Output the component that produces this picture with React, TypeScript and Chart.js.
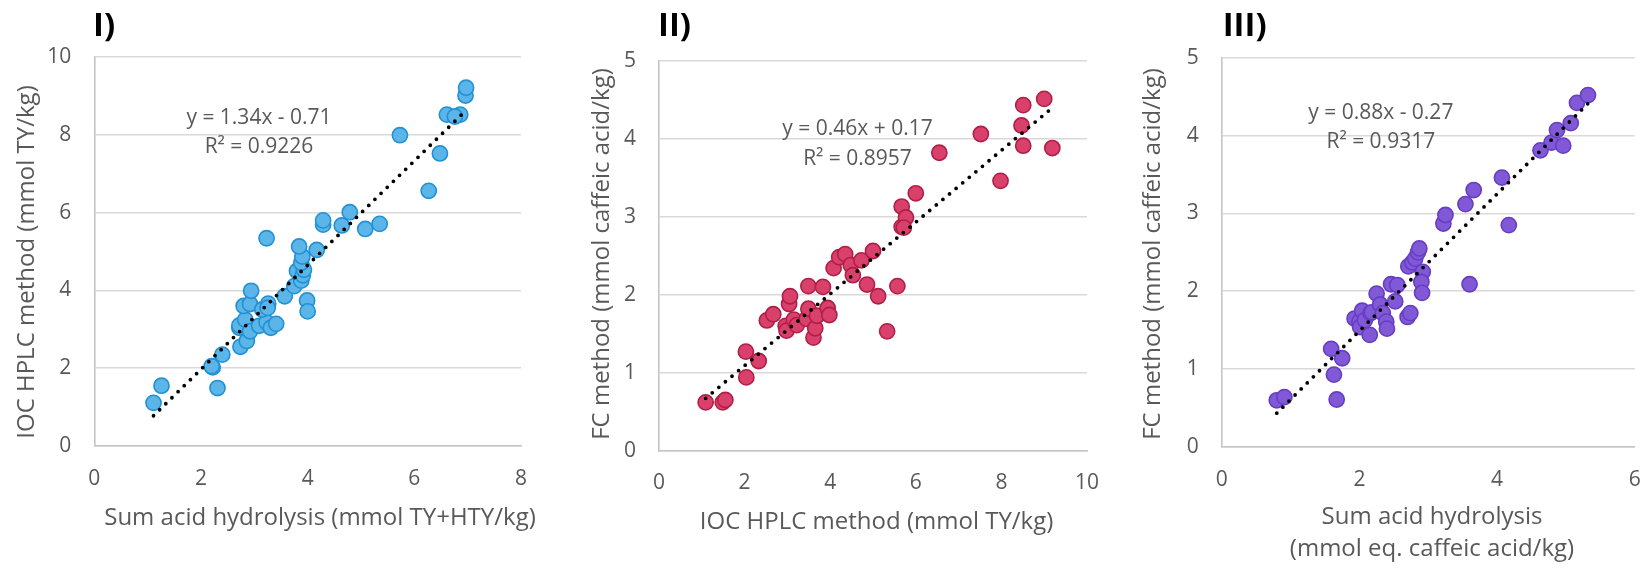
import React, { useEffect, useRef } from "react";
import { Chart, registerables } from "chart.js";
Chart.register(...registerables);

const FONT = "'Open Sans', 'DejaVu Sans', sans-serif";
const TEXT = "#595959";

// ---- Panel I: Sum acid hydrolysis vs IOC HPLC ----
const p1X = [1.11, 1.26, 2.22, 2.2, 2.31, 2.4, 2.74, 2.86, 2.72, 2.72, 2.83, 2.92, 2.8, 2.92, 2.94, 3.09, 3.23, 3.15, 3.26, 3.25, 3.31, 3.41, 3.23, 3.57, 3.75, 3.8, 3.88, 3.91, 3.93, 3.88, 3.9, 3.84, 3.99, 4.0, 4.17, 4.29, 4.29, 4.64, 4.79, 5.08, 5.35, 5.73, 6.27, 6.48, 6.61, 6.86, 6.96, 6.97, 6.76];
const p1Y = [1.11, 1.55, 2.02, 2.05, 1.49, 2.35, 2.55, 2.7, 3.04, 3.1, 3.25, 2.95, 3.6, 3.65, 3.99, 3.09, 3.18, 3.51, 3.66, 3.55, 3.04, 3.14, 5.34, 3.85, 4.11, 4.5, 4.25, 4.39, 4.53, 4.71, 4.87, 5.13, 3.74, 3.46, 5.04, 5.69, 5.8, 5.67, 6.01, 5.58, 5.71, 7.99, 6.56, 7.52, 8.52, 8.52, 9.01, 9.21, 8.47];
const p1Slope = 1.34;
const p1Intercept = -0.71;
const p1Eq = "y = 1.34x - 0.71";
const p1R2 = "R\u00B2 = 0.9226";

// ---- Panel II: IOC HPLC vs FC ----
const p2X = [1.09, 1.49, 1.55, 2.03, 2.04, 2.33, 2.52, 2.67, 2.96, 2.98, 3.04, 3.06, 3.15, 3.22, 3.45, 3.49, 3.49, 3.61, 3.65, 3.69, 3.83, 3.94, 3.98, 4.08, 4.21, 4.35, 4.48, 4.53, 4.73, 4.86, 5.0, 5.12, 5.33, 5.57, 5.67, 5.67, 5.77, 5.72, 6.0, 6.55, 7.52, 7.98, 8.47, 8.51, 8.51, 9.0, 9.19];
const p2Y = [0.62, 0.62, 0.65, 1.27, 0.94, 1.15, 1.67, 1.75, 1.6, 1.54, 1.88, 1.98, 1.68, 1.61, 1.69, 1.82, 2.11, 1.45, 1.57, 1.73, 2.1, 1.83, 1.74, 2.34, 2.48, 2.52, 2.38, 2.25, 2.44, 2.13, 2.56, 1.98, 1.53, 2.11, 2.87, 3.13, 2.99, 2.86, 3.3, 3.82, 4.06, 3.46, 4.17, 4.43, 3.91, 4.51, 3.88];
const p2Slope = 0.46;
const p2Intercept = 0.17;
const p2Eq = "y = 0.46x + 0.17";
const p2R2 = "R\u00B2 = 0.8957";

// ---- Panel III: Sum acid hydrolysis (caffeic eq.) vs FC ----
const p3X = [0.8, 0.91, 1.59, 1.63, 1.67, 1.75, 1.93, 2.0, 2.04, 2.01, 2.08, 2.15, 2.16, 2.18, 2.25, 2.3, 2.34, 2.39, 2.4, 2.46, 2.52, 2.55, 2.7, 2.74, 2.71, 2.77, 2.81, 2.85, 2.87, 2.92, 2.9, 2.91, 3.22, 3.25, 3.54, 3.66, 3.6, 4.07, 4.17, 4.63, 4.79, 4.87, 4.96, 5.07, 5.16, 5.32];
const p3Y = [0.6, 0.64, 1.26, 0.93, 0.61, 1.14, 1.65, 1.61, 1.75, 1.54, 1.63, 1.44, 1.72, 1.73, 1.97, 1.83, 1.72, 1.61, 1.52, 2.09, 1.87, 2.08, 1.67, 1.72, 2.32, 2.37, 2.42, 2.5, 2.55, 2.25, 2.12, 1.98, 2.87, 2.98, 3.12, 3.3, 2.09, 3.46, 2.85, 3.81, 3.91, 4.07, 3.87, 4.16, 4.42, 4.52];
const p3Slope = 0.88;
const p3Intercept = -0.27;
const p3Eq = "y = 0.88x - 0.27";
const p3R2 = "R\u00B2 = 0.9317";

type PanelCfg = {
  left: number; // canvas left in page
  width: number;
  plot: { l: number; r: number; t: number; b: number }; // relative to canvas
  xs: number[]; ys: number[];
  slope: number; intercept: number;
  xMax: number; xStep: number; yMax: number; yStep: number;
  fill: string; stroke: string;
  label: string; labelX: number;
  eq: string; r2: string; eqX: number; eqY: number; r2Y: number;
  xTitle: string[]; xTitleX: number; xTitleY: number[];
  yTitle: string; yTitleX: number; yTitleY: number;
};

const H = 568;
const YW = 60;
const XH = 60;

const panels: PanelCfg[] = [
  {
    left: 0, width: 548,
    plot: { l: 94.3, r: 521, t: 57, b: 446 },
    xs: p1X, ys: p1Y, slope: p1Slope, intercept: p1Intercept,
    xMax: 8, xStep: 2, yMax: 10, yStep: 2,
    fill: "#5BB5E8", stroke: "#2192D3",
    label: "I)", labelX: 93,
    eq: p1Eq, r2: p1R2, eqX: 259, eqY: 118, r2Y: 147,
    xTitle: ["Sum acid hydrolysis (mmol TY+HTY/kg)"], xTitleX: 320, xTitleY: [518],
    yTitle: "IOC HPLC method (mmol TY/kg)", yTitleX: 27, yTitleY: 262,
  },
  {
    left: 548, width: 580,
    plot: { l: 111, r: 539, t: 60.7, b: 450.7 },
    xs: p2X, ys: p2Y, slope: p2Slope, intercept: p2Intercept,
    xMax: 10, xStep: 2, yMax: 5, yStep: 1,
    fill: "#D9406B", stroke: "#B01F47",
    label: "II)", labelX: 110,
    eq: p2Eq, r2: p2R2, eqX: 309.5, eqY: 129.5, r2Y: 159,
    xTitle: ["IOC HPLC method (mmol TY/kg)"], xTitleX: 328.6, xTitleY: [522],
    yTitle: "FC method (mmol caffeic acid/kg)", yTitleX: 53.7, yTitleY: 254,
  },
  {
    left: 1096, width: 548,
    plot: { l: 125.7, r: 539, t: 57.7, b: 447 },
    xs: p3X, ys: p3Y, slope: p3Slope, intercept: p3Intercept,
    xMax: 6, xStep: 2, yMax: 5, yStep: 1,
    fill: "#8159D6", stroke: "#653EC4",
    label: "III)", labelX: 126.7,
    eq: p3Eq, r2: p3R2, eqX: 284.8, eqY: 112.8, r2Y: 142,
    xTitle: ["Sum acid hydrolysis", "(mmol eq. caffeic acid/kg)"], xTitleX: 336, xTitleY: [517, 549.5],
    yTitle: "FC method (mmol caffeic acid/kg)", yTitleX: 57, yTitleY: 254,
  },
];

function Panel({ cfg }: { cfg: PanelCfg }) {
  const ref = useRef<HTMLCanvasElement | null>(null);
  useEffect(() => {
    if (!ref.current) return;
    const pts = cfg.xs.map((x, i) => ({ x, y: cfg.ys[i] }));
    const xmin = Math.min(...cfg.xs);
    const xmax = Math.max(...cfg.xs);
    const trend = [
      { x: xmin, y: cfg.slope * xmin + cfg.intercept },
      { x: xmax, y: cfg.slope * xmax + cfg.intercept },
    ];
    const textPlugin = {
      id: "panelText",
      afterDraw(chart: any) {
        const ctx = chart.ctx as CanvasRenderingContext2D;
        ctx.save();
        ctx.fillStyle = "#000";
        ctx.font = `bold 33px ${FONT}`;
        ctx.textAlign = "left";
        ctx.textBaseline = "alphabetic";
        ctx.fillText(cfg.label, cfg.labelX, 36);

        ctx.fillStyle = TEXT;
        ctx.font = `21px ${FONT}`;
        ctx.textAlign = "center";
        ctx.textBaseline = "middle";
        ctx.fillText(cfg.eq, cfg.eqX, cfg.eqY);
        ctx.fillText(cfg.r2, cfg.eqX, cfg.r2Y);

        ctx.font = `24px ${FONT}`;
        cfg.xTitle.forEach((t, i) => ctx.fillText(t, cfg.xTitleX, cfg.xTitleY[i]));
        ctx.translate(cfg.yTitleX, cfg.yTitleY);
        ctx.rotate(-Math.PI / 2);
        ctx.fillText(cfg.yTitle, 0, 0);
        ctx.restore();
      },
    };
    const chart = new Chart(ref.current, {
      type: "scatter",
      data: {
        datasets: [
          {
            type: "line",
            data: trend,
            borderColor: "#000",
            borderWidth: 3.8,
            borderDash: [0, 8.6],
            borderCapStyle: "round",
            pointRadius: 0,
            fill: false,
            order: 0,
          } as any,
          {
            data: pts,
            backgroundColor: cfg.fill,
            borderColor: cfg.stroke,
            borderWidth: 1.6,
            pointRadius: 7.6,
            pointHoverRadius: 7.6,
            order: 1,
          },
        ],
      },
      options: {
        responsive: false,
        animation: false,
        devicePixelRatio: 1,
        events: [],
        layout: {
          padding: {
            left: cfg.plot.l - YW,
            top: cfg.plot.t,
            right: cfg.width - cfg.plot.r,
            bottom: H - cfg.plot.b - XH,
          },
        },
        plugins: { legend: { display: false }, tooltip: { enabled: false }, title: { display: false } },
        scales: {
          x: {
            type: "linear",
            min: 0,
            max: cfg.xMax,
            ticks: { stepSize: cfg.xStep, color: TEXT, font: { family: FONT, size: 21 }, padding: 20, maxRotation: 0 },
            grid: { display: false, drawTicks: false },
            border: { display: true, color: "#C4C4C4", width: 1.6 },
            afterFit: (s: any) => {
              s.height = XH;
              s.paddingLeft = 0;
              s.paddingRight = 0;
            },
          },
          y: {
            type: "linear",
            min: 0,
            max: cfg.yMax,
            ticks: { stepSize: cfg.yStep, color: TEXT, font: { family: FONT, size: 21 }, padding: 23 },
            grid: { color: "#D9D9D9", lineWidth: 1.6, drawTicks: false },
            border: { display: true, color: "#C4C4C4", width: 1.6 },
            afterFit: (s: any) => {
              s.width = YW;
              s.paddingTop = 0;
              s.paddingBottom = 0;
            },
          },
        },
      },
      plugins: [textPlugin],
    });
    return () => chart.destroy();
  }, [cfg]);
  return (
    <canvas
      ref={ref}
      width={cfg.width}
      height={H}
      style={{ position: "absolute", left: cfg.left, top: 0, width: cfg.width, height: H }}
    />
  );
}

export default function App() {
  return (
    <div style={{ position: "absolute", left: 0, top: 0, width: 1644, height: H, background: "#fff", overflow: "hidden" }}>
      {panels.map((p, i) => (
        <Panel key={i} cfg={p} />
      ))}
    </div>
  );
}
